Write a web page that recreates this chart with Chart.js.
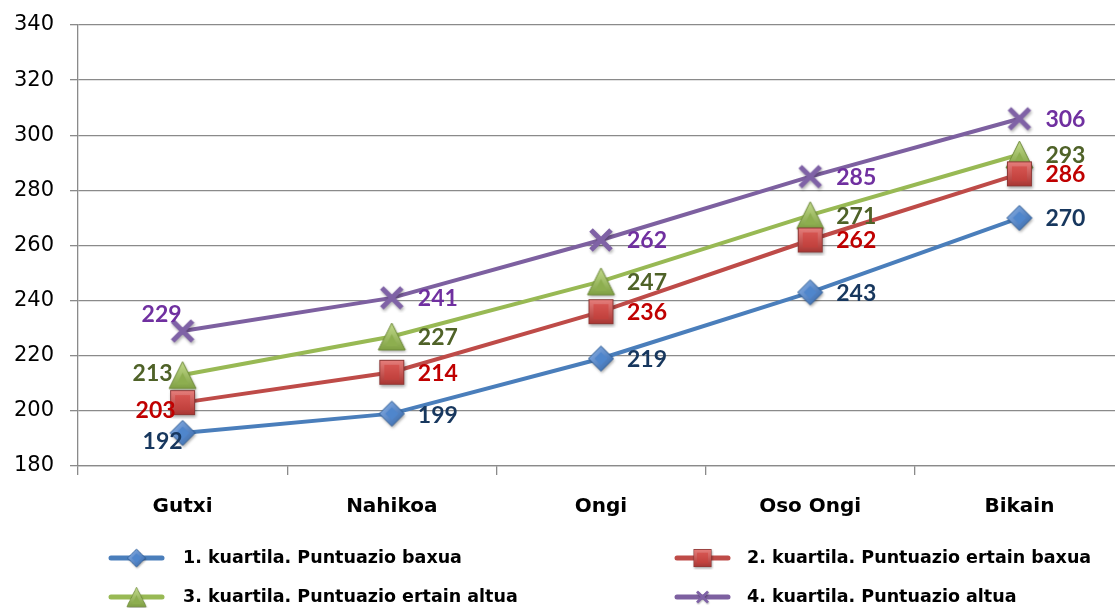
<!DOCTYPE html>
<html>
<head>
<meta charset="utf-8">
<script src="https://cdn.jsdelivr.net/npm/chart.js@4"></script>
<style>
  html, body { margin: 0; padding: 0; background: #ffffff; overflow: hidden; }
  #wrap { width: 1115px; height: 608px; overflow: hidden; position: relative; }
  canvas { display: block; }
</style>
</head>
<body>
<div id="wrap"><canvas id="c" width="1124" height="608"></canvas></div>
<script>
// ---- data ----
const categories = ['Gutxi', 'Nahikoa', 'Ongi', 'Oso Ongi', 'Bikain'];
const q1Values = [192, 199, 219, 243, 270];
const q2Values = [203, 214, 236, 262, 286];
const q3Values = [213, 227, 247, 271, 293];
const q4Values = [229, 241, 262, 285, 306];
const seriesNames = [
  '1. kuartila. Puntuazio baxua',
  '2. kuartila. Puntuazio ertain baxua',
  '3. kuartila. Puntuazio ertain altua',
  '4. kuartila. Puntuazio altua'
];
const yMin = 180, yMax = 340, yStep = 20;

// ---- styles ----
const lineColors = ['#4A7EBB', '#BE4B48', '#98B954', '#7D60A0'];
const labelColors = ['#17375E', '#C00000', '#4F6228', '#7030A0'];

function makeImg(w, h, draw) {
  const c = document.createElement('canvas');
  c.width = w; c.height = h;
  draw(c.getContext('2d'), w, h);
  return c;
}
const PAD = 4;
const diamondImg = makeImg(24 + PAD * 2, 26 + PAD * 2, (ctx, w, h) => {
  const cx = w / 2, cy = h / 2, r = 12.5;
  ctx.save();
  ctx.shadowColor = 'rgba(0,0,0,0.35)'; ctx.shadowBlur = 3; ctx.shadowOffsetX = 1; ctx.shadowOffsetY = 2;
  ctx.beginPath(); ctx.moveTo(cx, cy - r); ctx.lineTo(cx + r, cy); ctx.lineTo(cx, cy + r); ctx.lineTo(cx - r, cy); ctx.closePath();
  const g = ctx.createLinearGradient(cx - r, cy - r, cx + r, cy + r);
  g.addColorStop(0, '#8DB3E8'); g.addColorStop(1, '#2F63A8');
  ctx.fillStyle = g; ctx.fill();
  ctx.restore();
  ctx.strokeStyle = '#2E5C95'; ctx.lineWidth = 1;
  ctx.beginPath(); ctx.moveTo(cx, cy - r); ctx.lineTo(cx + r, cy); ctx.lineTo(cx, cy + r); ctx.lineTo(cx - r, cy); ctx.closePath(); ctx.stroke();
  const r2 = 6.5;
  ctx.beginPath(); ctx.moveTo(cx, cy - r2); ctx.lineTo(cx + r2, cy); ctx.lineTo(cx, cy + r2); ctx.lineTo(cx - r2, cy); ctx.closePath();
  ctx.fillStyle = '#4F86CC'; ctx.fill();
});
const squareImg = makeImg(25 + PAD * 2, 25 + PAD * 2, (ctx, w, h) => {
  const s = 25, x0 = PAD, y0 = PAD;
  ctx.save();
  ctx.shadowColor = 'rgba(0,0,0,0.35)'; ctx.shadowBlur = 3; ctx.shadowOffsetX = 1; ctx.shadowOffsetY = 2;
  const g = ctx.createLinearGradient(x0, y0, x0, y0 + s);
  g.addColorStop(0, '#E8807D'); g.addColorStop(1, '#A83431');
  ctx.fillStyle = g; ctx.fillRect(x0, y0, s, s);
  ctx.restore();
  ctx.strokeStyle = '#8C3836'; ctx.lineWidth = 1; ctx.strokeRect(x0 + 0.5, y0 + 0.5, s - 1, s - 1);
  const i = 5;
  const g2 = ctx.createLinearGradient(x0, y0 + i, x0, y0 + s - i);
  g2.addColorStop(0, '#D65551'); g2.addColorStop(1, '#C0403C');
  ctx.fillStyle = g2; ctx.fillRect(x0 + i, y0 + i, s - 2 * i, s - 2 * i);
});
const triangleImg = makeImg(27 + PAD * 2, 27 + PAD * 2, (ctx, w, h) => {
  const cx = w / 2, top = PAD, bot = PAD + 27, half = 13.5;
  ctx.save();
  ctx.shadowColor = 'rgba(0,0,0,0.3)'; ctx.shadowBlur = 3; ctx.shadowOffsetX = 1; ctx.shadowOffsetY = 2;
  ctx.beginPath(); ctx.moveTo(cx, top); ctx.lineTo(cx + half, bot); ctx.lineTo(cx - half, bot); ctx.closePath();
  const g = ctx.createLinearGradient(cx, top, cx, bot);
  g.addColorStop(0, '#C3DB8C'); g.addColorStop(1, '#7FA043');
  ctx.fillStyle = g; ctx.fill();
  ctx.restore();
  ctx.strokeStyle = '#6E8A3A'; ctx.lineWidth = 1;
  ctx.beginPath(); ctx.moveTo(cx, top); ctx.lineTo(cx + half, bot); ctx.lineTo(cx - half, bot); ctx.closePath(); ctx.stroke();
  ctx.beginPath(); ctx.moveTo(cx, top + 11); ctx.lineTo(cx + 6, bot - 4); ctx.lineTo(cx - 6, bot - 4); ctx.closePath();
  ctx.fillStyle = '#8DAE4F'; ctx.fill();
});
const crossImg = makeImg(22 + PAD * 2, 22 + PAD * 2, (ctx, w, h) => {
  const cx = w / 2, cy = h / 2, r = 10;
  ctx.save();
  ctx.shadowColor = 'rgba(0,0,0,0.3)'; ctx.shadowBlur = 3; ctx.shadowOffsetX = 1; ctx.shadowOffsetY = 2;
  ctx.strokeStyle = '#7F62A6'; ctx.lineWidth = 5; ctx.lineCap = 'butt';
  ctx.beginPath(); ctx.moveTo(cx - r, cy - r); ctx.lineTo(cx + r, cy + r);
  ctx.moveTo(cx + r, cy - r); ctx.lineTo(cx - r, cy + r); ctx.stroke();
  ctx.restore();
});
const markerImgs = [diamondImg, squareImg, triangleImg, crossImg];

// label placement (style, not data): default right of point; first category has custom offsets
const labelFont = 'bold 23px Lato';
function labelPlace(ds, i) {
  if (i === 0) {
    const o = [[-20, 9], [-27, 8], [-30, -1], [-21, -16]][ds];
    return { dx: o[0], dy: o[1], align: 'center' };
  }
  if (ds === 0 && i === 1) return { dx: 26, dy: 2, align: 'left' };
  return { dx: 26, dy: 1, align: 'left' };
}

const labelsPlugin = {
  id: 'valueLabels',
  afterDatasetsDraw(chart) {
    const ctx = chart.ctx;
    ctx.save();
    ctx.font = labelFont;
    ctx.textBaseline = 'middle';
    chart.data.datasets.forEach((ds, di) => {
      const meta = chart.getDatasetMeta(di);
      meta.data.forEach((pt, i) => {
        const p = labelPlace(di, i);
        ctx.fillStyle = labelColors[di];
        ctx.textAlign = p.align;
        ctx.fillText(String(ds.data[i]), pt.x + p.dx, pt.y + p.dy);
      });
    });
    ctx.restore();
  }
};

const legendPlugin = {
  id: 'customLegend',
  afterDraw(chart) {
    const ctx = chart.ctx;
    const cols = [{ lx: 111, tx: 183 }, { lx: 677, tx: 747 }];
    const rows = [558, 597];
    ctx.save();
    ctx.font = 'bold 17.5px "DejaVu Sans"';
    ctx.textBaseline = 'middle';
    ctx.textAlign = 'left';
    chart.data.datasets.forEach((ds, di) => {
      const col = cols[di % 2], y = rows[Math.floor(di / 2)];
      ctx.strokeStyle = lineColors[di];
      ctx.lineWidth = 5;
      ctx.lineCap = 'round';
      ctx.beginPath(); ctx.moveTo(col.lx, y); ctx.lineTo(col.lx + 51, y); ctx.stroke();
      const img = markerImgs[di];
      const sc = di === 3 ? 0.55 : 0.72;
      const w = img.width * sc, h = img.height * sc;
      ctx.drawImage(img, col.lx + 25.5 - w / 2, y - h / 2, w, h);
      ctx.fillStyle = '#000000';
      ctx.fillText(seriesNames[di], col.tx, y);
    });
    ctx.restore();
  }
};

const gridColor = '#8A8A8A';
const allSeries = [q1Values, q2Values, q3Values, q4Values];

new Chart(document.getElementById('c'), {
  type: 'line',
  data: {
    labels: categories,
    datasets: allSeries.map((vals, di) => ({
      label: seriesNames[di],
      data: vals,
      borderColor: lineColors[di],
      backgroundColor: lineColors[di],
      borderWidth: 4,
      tension: 0,
      pointStyle: markerImgs[di],
      pointRadius: 12,
      pointHoverRadius: 12
    }))
  },
  options: {
    responsive: false,
    animation: false,
    events: [],
    layout: { autoPadding: false, padding: { left: 0, right: 0, top: 25, bottom: 0 } },
    plugins: { legend: { display: false }, tooltip: { enabled: false } },
    scales: {
      x: {
        offset: true,
        grid: { offset: true, drawOnChartArea: false, drawTicks: true, tickLength: 9, color: gridColor, lineWidth: 1.3 },
        border: { display: true, color: gridColor, width: 1.3 },
        ticks: { color: '#000000', font: { family: 'DejaVu Sans', weight: 'bold', size: 20 }, padding: 20, maxRotation: 0 },
        afterFit(scale) { scale.height = 142; scale.paddingLeft = 0; scale.paddingRight = 0; }
      },
      y: {
        min: yMin, max: yMax,
        ticks: { stepSize: yStep, color: '#000000', font: { family: 'DejaVu Sans', size: 21 }, padding: 16 },
        grid: { color: gridColor, lineWidth: 1.3, tickLength: 8, drawTicks: true },
        border: { display: true, color: gridColor, width: 1.3 },
        afterFit(scale) { scale.width = 78; scale.paddingTop = 0; scale.paddingBottom = 0; }
      }
    }
  },
  plugins: [labelsPlugin, legendPlugin]
});
</script>
</body>
</html>
